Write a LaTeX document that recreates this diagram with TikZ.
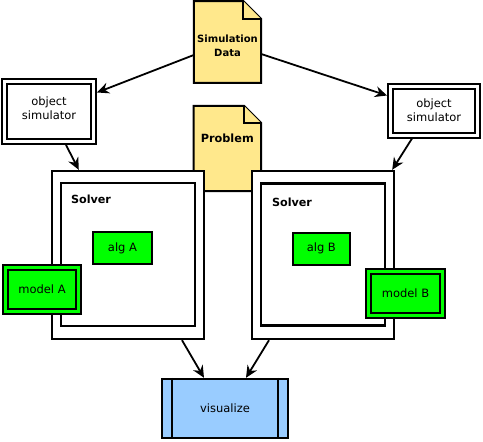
\documentclass[tikz,border=0pt]{standalone}
\usepackage{fontspec}
\setmainfont{DejaVu Sans}
\usetikzlibrary{arrows.meta,backgrounds}
\definecolor{docyellow}{RGB}{255,232,140}
\definecolor{boxgreen}{RGB}{0,255,0}
\definecolor{visblue}{RGB}{153,204,255}

% folded document outline behind a node: name, fold size, extra length at the bottom
\newcommand\foldeddoc[3]{%
  \begin{pgfonlayer}{background}
    \draw[docline] ([yshift=-#3]#1.south west) -- (#1.north west) -- ([xshift=-#2]#1.north east)
      -- ([yshift=-#2]#1.north east) -- ([yshift=-#3]#1.south east) -- cycle;
    \draw[docline] ([xshift=-#2]#1.north east) -- ([xshift=-#2,yshift=-#2]#1.north east)
      -- ([yshift=-#2]#1.north east);
  \end{pgfonlayer}}

\begin{document}
\begin{tikzpicture}[x=1pt, y=-1pt,
  every node/.style={font=\fontsize{11.5}{14}\selectfont},
  docline/.style={draw, line width=2pt, fill=docyellow, line join=miter},
  docnode/.style={inner sep=0pt, align=center, minimum width=67pt,
    font=\bfseries\fontsize{10}{14}\selectfont},
  simbox/.style={draw, line width=2pt, double=white, double distance=3pt,
    fill=white, outer sep=3.5pt, align=center, inner sep=0pt},
  solverbox/.style={draw, line width=2.4pt, fill=white, inner sep=0pt},
  solvertitle/.style={inner sep=0pt, anchor=west, font=\bfseries\fontsize{11.2}{14}\selectfont},
  algbox/.style={draw, line width=2.2pt, fill=boxgreen, inner sep=0pt, minimum height=32pt},
  modelbox/.style={draw, line width=2pt, double=boxgreen, double distance=3pt,
    fill=boxgreen, outer sep=3.5pt, inner sep=0pt, minimum width=73pt, minimum height=44pt},
  visbox/.style={draw, line width=2.4pt, fill=visblue, inner sep=0pt,
    minimum width=126pt, minimum height=59pt},
  flow/.style={-{Stealth[length=12pt,width=11pt,inset=4pt]}, line width=1.8pt}]
\useasboundingbox (0,0) rectangle (483,442);

% documents
\node[docnode, minimum height=81.5pt] (simdata) at (227.5,42) {\rule{0pt}{15pt}Simulation\\Data};
\foldeddoc{simdata}{18pt}{0pt}
\node[docnode, minimum height=64pt, font=\bfseries\fontsize{11.3}{14}\selectfont]
  (problem) at (227.3,138) {Problem};
\foldeddoc{problem}{17pt}{21pt}

% simulators
\node[simbox, minimum width=89pt, minimum height=60pt] (leftsim) at (49,111.5)
  {object\\simulator\rule[-7pt]{0pt}{7pt}};
\node[simbox, minimum width=87pt, minimum height=49pt] (rightsim) at (434,110.5) {object\\simulator};

% solver A
\node[solverbox, minimum width=152pt, minimum height=168pt] (solverA) at (128,255) {};
\node[solverbox, minimum width=134pt, minimum height=143pt] (solverAin) at (128,254.5) {};
\node[solvertitle] (titleA) at ([xshift=11pt,yshift=-17.5pt]solverAin.north west) {Solver};
\node[algbox, minimum width=59pt] (algA) at (122.5,248) {alg A};
\node[modelbox] (modelA) at (42,289.5) {model A};

% solver B
\node[solverbox, minimum width=142pt, minimum height=168pt] (solverB) at (323,255) {};
\node[solverbox, minimum width=124pt, minimum height=142pt] (solverBin) at (323,254.5) {};
\node[solvertitle] (titleB) at ([xshift=12pt,yshift=-20pt]solverBin.north west) {Solver};
\node[algbox, minimum width=57pt] (algB) at (321.3,248.8) {alg B};
\node[modelbox, minimum width=74pt] (modelB) at (405.5,293.5) {model B};

% output
\node[visbox] (vis) at (225,408.5) {visualize};
\draw[line width=2.4pt] ([xshift=11pt]vis.north west) -- ([xshift=11pt]vis.south west);
\draw[line width=2.4pt] ([xshift=-11pt]vis.north east) -- ([xshift=-11pt]vis.south east);

% connectors
\draw[flow] ([yshift=-13pt]simdata.west) -- ([yshift=19pt]leftsim.east);
\draw[flow] ([yshift=-12pt]simdata.east) -- ([yshift=15pt]rightsim.west);
\draw[flow] ([xshift=17pt]leftsim.south) -- ([xshift=28pt]solverA.north west);
\draw[flow] ([xshift=-22pt]rightsim.south) -- ([xshift=-3pt]solverB.north east);
\draw[flow] ([xshift=54pt]solverA.south) -- ([xshift=-21pt]vis.north);
\draw[flow] ([xshift=-54pt]solverB.south) -- ([xshift=21pt]vis.north);
\end{tikzpicture}
\end{document}
